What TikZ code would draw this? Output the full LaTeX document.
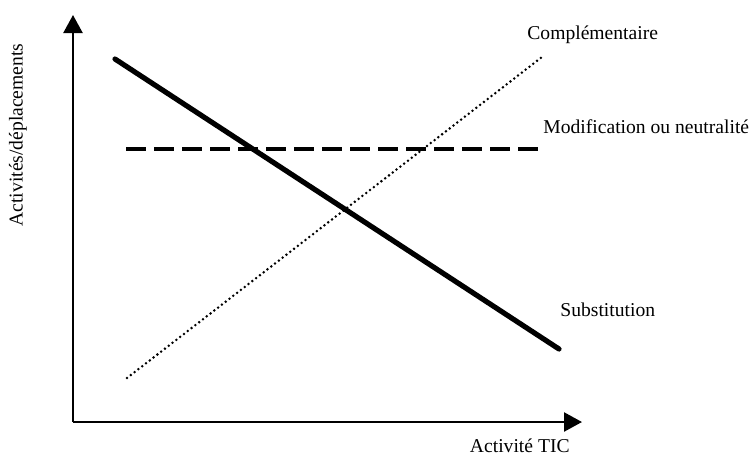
\documentclass[tikz,border=0pt]{standalone}
\usepackage{fontspec}
\setmainfont{Liberation Serif}
\usepackage{tikz}
\usetikzlibrary{arrows.meta, positioning}

\begin{document}
\begin{tikzpicture}[x=0.5pt, y=-0.5pt, >={Triangle[length=9pt,width=9.5pt]},
    lbl/.style={inner sep=0pt, font=\fontsize{9.8}{12}\selectfont},
    axisline/.style={line width=1.2pt},
    subst/.style={line width=2.6pt, line cap=round},
    neutre/.style={line width=1.6pt, dash pattern=on 10pt off 4pt},
    compl/.style={line width=1.4pt, line cap=round, dash pattern=on 0pt off 2.4pt}]
    \useasboundingbox (0,0) rectangle (755,457);

    % 坐标轴
    \coordinate (O) at (73,422);
    \coordinate (ytip) at (73,15);
    \coordinate (xtip) at (582,422);
    \draw[axisline,->] (O) -- (ytip);
    \draw[axisline,->] (O) -- (xtip);

    % 轴标签
    \node[lbl, rotate=90] (ylab) at (18,135) {Activités/déplacements};
    \node[lbl, anchor=base east] (xlab) at (570,452) {Activité TIC};

    % 曲线端点
    \coordinate (s1) at (115,59);
    \coordinate (s2) at (559,349);
    \coordinate (n1) at (126,149);
    \coordinate (n2) at (543,149);
    \coordinate (c1) at (127,378);
    \coordinate (c2) at (542,57);

    % 曲线
    \draw[subst] (s1) -- (s2);
    \draw[neutre] (n1) -- (n2);
    \draw[compl] (c1) -- (c2);

    % 曲线标签
    \node[lbl, anchor=base west] (clab) at (527,39) {Complémentaire};
    \node[lbl, anchor=base west] (nlab) at (543,133) {Modification ou neutralité};
    \node[lbl, anchor=base west] (slab) at (560,316) {Substitution};
\end{tikzpicture}
\end{document}
